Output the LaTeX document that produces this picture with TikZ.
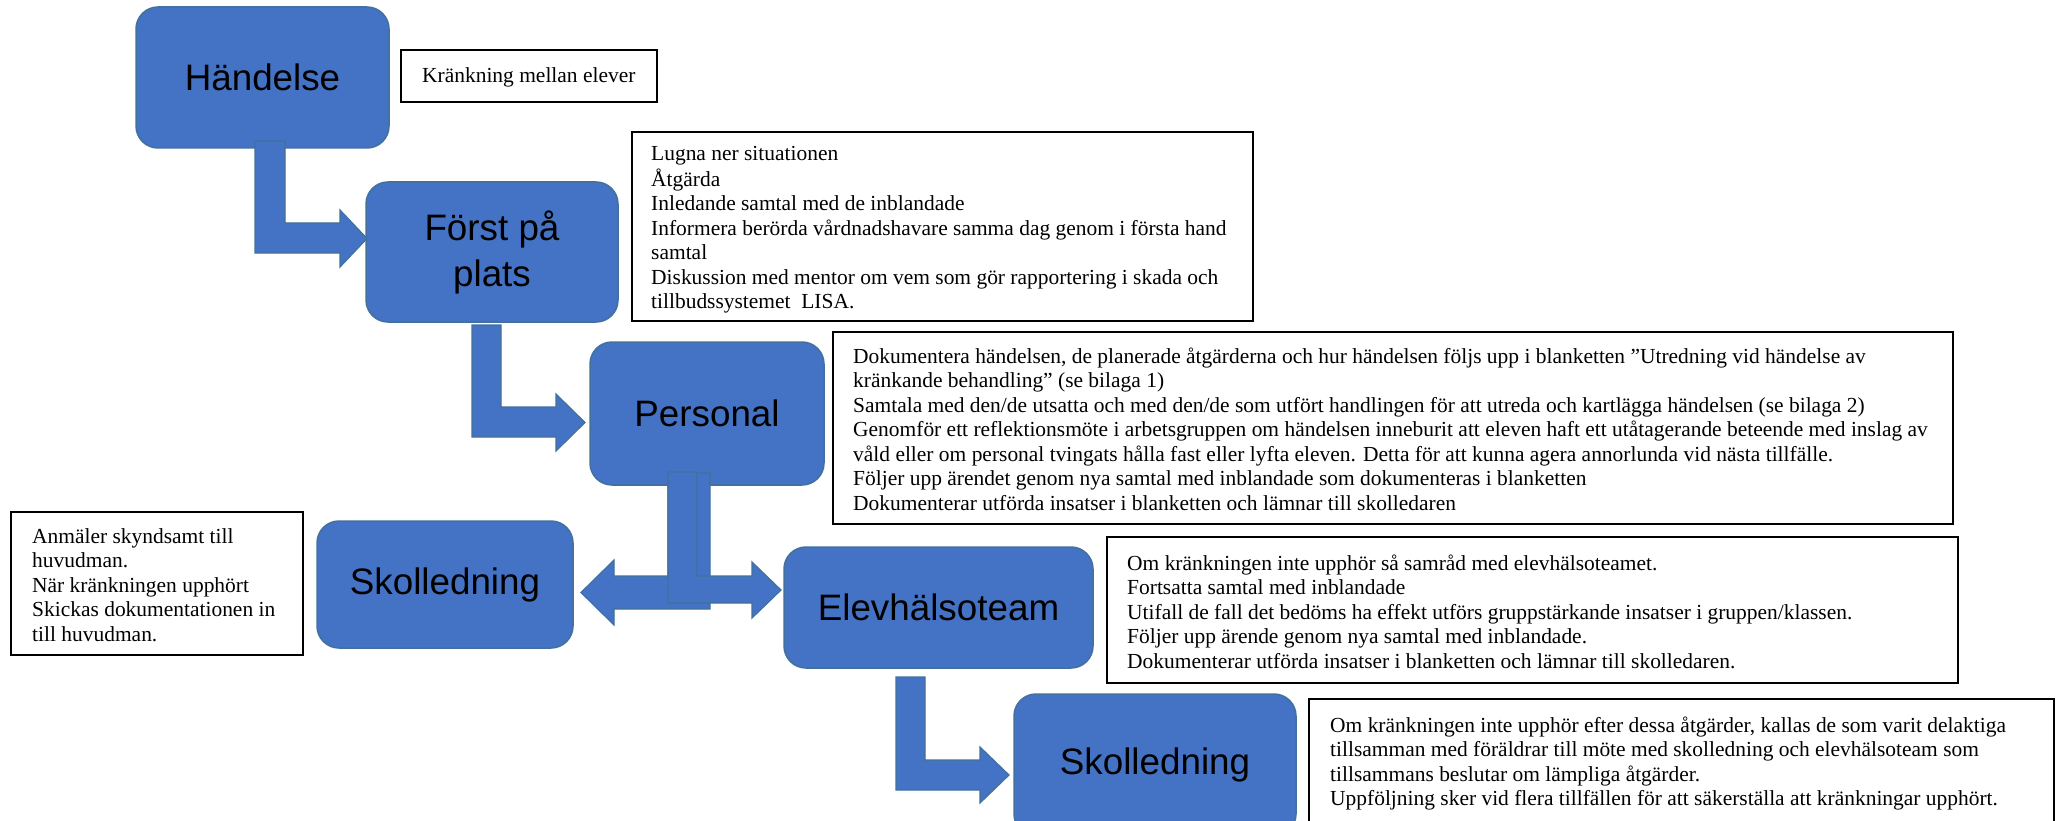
\documentclass[tikz,border=0pt]{standalone}
\usepackage{fontspec}
\setmainfont{Liberation Serif}
\newfontfamily\arialf{Liberation Sans}
\definecolor{boxblue}{HTML}{4472C4}
\definecolor{boxedge}{HTML}{41719C}
\tikzset{
  bluebox/.style={rounded corners=22pt, fill=boxblue, draw=boxedge, line width=1.5pt,
    font=\arialf\fontsize{36.8}{46}\selectfont, align=center, inner sep=0pt, text=black},
  txtbox/.style={draw=black, line width=2.2pt, fill=white, inner sep=0pt},
  txt/.style={font=\fontsize{21.45}{24.5}\selectfont, align=left, anchor=north west, inner sep=0pt},
  barrow/.style={fill=boxblue, draw=boxedge, line width=1.2pt, line join=miter}
}
\begin{document}
\begin{tikzpicture}[x=1pt,y=-1pt]
\path[use as bounding box, clip] (0,0) rectangle (2064,821);
\fill[white] (0,0) rectangle (2064,821);

% blue boxes
\node[bluebox, minimum width=253pt, minimum height=141pt] (hand) at (262.5,77.5) {Händelse};
\node[bluebox, minimum width=252pt, minimum height=140pt] (forst) at (492,252) {Först på\\plats};
\node[bluebox, minimum width=234pt, minimum height=143pt] (pers) at (707,413.5) {Personal};
\node[bluebox, minimum width=256pt, minimum height=127pt] (skolL) at (445,584.5) {Skolledning};
\node[bluebox, minimum width=309pt, minimum height=121pt] (elev) at (938.5,607.5) {Elevhälsoteam};
\node[bluebox, minimum width=282pt, minimum height=142pt] (skolB) at (1155,765) {Skolledning};

% block arrows
\draw[barrow] (255,141) -- (285,141) -- (285,223) -- (340,223) -- (340,210) -- (367,238.5)
  -- (340,267) -- (340,253) -- (255,253) -- cycle;
\draw[barrow] (472,325) -- (501,325) -- (501,407) -- (556,407) -- (556,394) -- (585,422.5)
  -- (556,451) -- (556,437) -- (472,437) -- cycle;
\draw[barrow] (668,473) -- (710,473) -- (710,609) -- (614,609) -- (614,625) -- (581,592.5)
  -- (614,560) -- (614,576) -- (668,576) -- cycle;
\draw[barrow] (668,472) -- (697,472) -- (697,576) -- (752,576) -- (752,562) -- (781,590)
  -- (752,618) -- (752,603) -- (668,603) -- cycle;
\draw[barrow] (896,677) -- (925,677) -- (925,760) -- (980,760) -- (980,747) -- (1009,775)
  -- (980,803) -- (980,790) -- (896,790) -- cycle;

% text boxes
\node[txtbox, minimum width=256pt, minimum height=52pt] (kbox) at (529,76) {};
\node[txt] (ktext) at (422,64.85) {\strut Kränkning mellan elever};

\node[txtbox, minimum width=621pt, minimum height=189pt] (lbox) at (942.5,226.5) {};
\node[txt] (ltext) at (651,142.85) {\strut Lugna ner situationen\\
Åtgärda\\
Inledande samtal med de inblandade\\
Informera berörda vårdnadshavare samma dag genom i första hand\\
samtal\\
Diskussion med mentor om vem som gör rapportering i skada och\\
tillbudssystemet\ \ LISA.};

\node[txtbox, minimum width=1120pt, minimum height=192pt] (dbox) at (1393,428) {};
\node[txt] (dtext) at (853,345.85) {\strut Dokumentera händelsen, de planerade åtgärderna och hur händelsen följs upp i blanketten ”Utredning vid händelse av\\
kränkande behandling” (se bilaga 1)\\
Samtala med den/de utsatta och med den/de som utfört handlingen för att utreda och kartlägga händelsen (se bilaga 2)\\
Genomför ett reflektionsmöte i arbetsgruppen om händelsen inneburit att eleven haft ett utåtagerande beteende med inslag av\\
våld eller om personal tvingats hålla fast eller lyfta eleven. Detta för att kunna agera annorlunda vid nästa tillfälle.\\
Följer upp ärendet genom nya samtal med inblandade som dokumenteras i blanketten\\
Dokumenterar utförda insatser i blanketten och lämnar till skolledaren};

\node[txtbox, minimum width=851pt, minimum height=146pt] (obox) at (1532.5,610) {};
\node[txt] (otext) at (1127,552.85) {\strut Om kränkningen inte upphör så samråd med elevhälsoteamet.\\
Fortsatta samtal med inblandade\\
Utifall de fall det bedöms ha effekt utförs gruppstärkande insatser i gruppen/klassen.\\
Följer upp ärende genom nya samtal med inblandade.\\
Dokumenterar utförda insatser i blanketten och lämnar till skolledaren.};

\node[txtbox, minimum width=292pt, minimum height=143pt] (abox) at (157,583.5) {};
\node[txt] (atext) at (32,525.85) {\strut Anmäler skyndsamt till\\
huvudman.\\
När kränkningen upphört\\
Skickas dokumentationen in\\
till huvudman.};

\node[txtbox, minimum width=745pt, minimum height=151pt] (bbox) at (1681.5,774.5) {};
\node[txt] (btext) at (1330,714.85) {\strut Om kränkningen inte upphör efter dessa åtgärder, kallas de som varit delaktiga\\
tillsamman med föräldrar till möte med skolledning och elevhälsoteam som\\
tillsammans beslutar om lämpliga åtgärder.\\
Uppföljning sker vid flera tillfällen för att säkerställa att kränkningar upphört.};
\end{tikzpicture}
\end{document}
